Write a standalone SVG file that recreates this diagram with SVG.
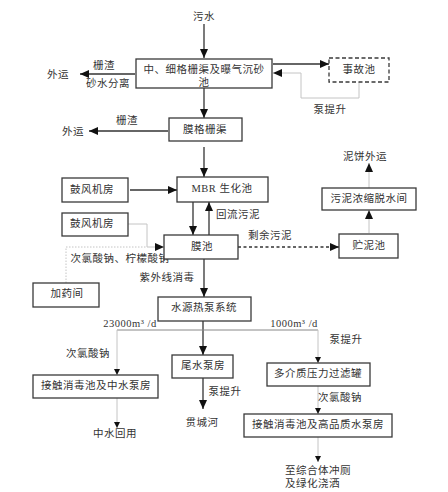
<svg xmlns="http://www.w3.org/2000/svg" width="448" height="492" viewBox="0 0 448 492">
<defs>
<style>
.box{fill:#fff;stroke:#3a3a3a;stroke-width:1.3}
.dbox{fill:#fff;stroke:#3a3a3a;stroke-width:1.3;stroke-dasharray:4,2.5}
text{font-family:"Liberation Serif","Noto Sans CJK SC",serif;font-size:10.5px;fill:#333;text-anchor:middle;dominant-baseline:central;letter-spacing:0.5px}
.l{text-anchor:start}
.k{fill:none;stroke:#333;stroke-width:1.3}
.g{fill:none;stroke:#c4c4c4;stroke-width:1}
.m{fill:none;stroke:#888;stroke-width:1}
</style>
<marker id="a" markerUnits="userSpaceOnUse" markerWidth="10" markerHeight="8" refX="9" refY="4" orient="auto"><path d="M0,0 L9,4 L0,8 z" fill="#111"/></marker>
<marker id="s" markerUnits="userSpaceOnUse" markerWidth="7" markerHeight="6" refX="6" refY="3" orient="auto"><path d="M0,0 L6,3 L0,6 z" fill="#111"/></marker>
</defs>
<rect width="448" height="492" fill="#fff"/>
<g id="connectors">
<line class="k" x1="204" y1="24" x2="204" y2="58" marker-end="url(#a)"/>
<line class="k" x1="135" y1="74" x2="80" y2="74" marker-end="url(#a)"/>
<line class="k" x1="273" y1="64" x2="329" y2="64" marker-end="url(#a)"/>
<polyline class="g" points="359,82 359,98 301,98 301,73 273,73" marker-end="url(#a)"/>
<line class="k" x1="204" y1="88" x2="204" y2="118" marker-end="url(#a)"/>
<line class="k" x1="168" y1="131" x2="89" y2="131" marker-end="url(#a)"/>
<line class="k" x1="204" y1="147" x2="204" y2="177" marker-end="url(#a)"/>
<line class="k" x1="130" y1="190" x2="177" y2="190" marker-end="url(#a)"/>
<line class="k" x1="193" y1="202" x2="193" y2="235" marker-end="url(#a)"/>
<line class="k" x1="209" y1="235" x2="209" y2="202" marker-end="url(#a)"/>
<polyline class="g" points="128,224 147,224 147,247 164,247" marker-end="url(#a)"/>
<polyline class="g" points="66,283 66,247 147,247" stroke-dasharray="1.5,1.5"/>
<line class="k" x1="238" y1="247" x2="339" y2="247" stroke-dasharray="3,2.5" stroke-width="1" marker-end="url(#a)"/>
<line class="g" x1="369" y1="233" x2="369" y2="210" marker-end="url(#a)"/>
<line class="g" x1="369" y1="188" x2="369" y2="163" marker-end="url(#a)"/>
<line class="k" x1="204" y1="259" x2="204" y2="297" marker-end="url(#a)"/>
<line class="k" x1="203" y1="321" x2="203" y2="355" marker-end="url(#a)"/>
<line class="m" x1="117" y1="330" x2="318" y2="330"/>
<line class="g" x1="117" y1="330" x2="117" y2="375" marker-end="url(#s)"/>
<line class="g" x1="318" y1="330" x2="318" y2="363" marker-end="url(#s)"/>
<line class="g" x1="117" y1="398" x2="117" y2="428" marker-end="url(#s)"/>
<line class="k" x1="203" y1="378" x2="203" y2="409" marker-end="url(#a)"/>
<line class="g" x1="318" y1="386" x2="318" y2="414" marker-end="url(#s)"/>
<line class="g" x1="318" y1="437" x2="318" y2="462" marker-end="url(#s)"/>
</g>
<g id="labels">
<text x="204" y="16">污水</text>
<text x="58" y="74">外运</text>
<text x="104" y="65">栅渣</text>
<text x="108" y="83">砂水分离</text>
<text x="330" y="109">泵提升</text>
<text x="73" y="131">外运</text>
<text x="127" y="120">栅渣</text>
<text x="238" y="214">回流污泥</text>
<text x="270" y="235">剩余污泥</text>
<text x="365" y="156">泥饼外运</text>
<text x="120" y="258">次氯酸钠、柠檬酸钠</text>
<text x="167" y="277">紫外线消毒</text>
<text x="130" y="323" letter-spacing="0">23000m³ /d</text>
<text x="294" y="323" letter-spacing="0">1000m³ /d</text>
<text x="88" y="353">次氯酸钠</text>
<text x="115" y="433">中水回用</text>
<text x="225" y="391">泵提升</text>
<text x="202" y="422">贯城河</text>
<text x="346" y="339">泵提升</text>
<text x="340" y="397">次氯酸钠</text>
<text class="l" x="285" y="470">至综合体冲厕</text>
<text class="l" x="285" y="483">及绿化浇洒</text>
</g>
<g id="n1"><rect class="box" x="136" y="59" width="136" height="29"/><text x="204" y="69">中、细格栅渠及曝气沉砂</text><text x="204" y="82">池</text></g>
<g id="n2"><rect class="dbox" x="329" y="58" width="60" height="24"/><text x="359" y="69">事故池</text></g>
<g id="n3"><rect class="box" x="169" y="118" width="73" height="23"/><text x="205" y="129">膜格栅渠</text></g>
<g id="n4"><rect class="box" x="177" y="177" width="91" height="25"/><text x="222" y="188">MBR 生化池</text></g>
<g id="n5"><rect class="box" x="62" y="178" width="66" height="24"/><text x="92" y="189">鼓风机房</text></g>
<g id="n6"><rect class="box" x="62" y="213" width="66" height="23"/><text x="92" y="223">鼓风机房</text></g>
<g id="n7"><rect class="box" x="164" y="235" width="74" height="24"/><text x="202" y="246">膜池</text></g>
<g id="n8"><rect class="box" x="339" y="234" width="59" height="24"/><text x="369" y="245">贮泥池</text></g>
<g id="n9"><rect class="box" x="322" y="188" width="94" height="22"/><text x="369" y="198">污泥浓缩脱水间</text></g>
<g id="n10"><rect class="box" x="33" y="283" width="66" height="24"/><text x="67" y="293">加药间</text></g>
<g id="n11"><rect class="box" x="158" y="297" width="93" height="24"/><text x="204" y="307">水源热泵系统</text></g>
<g id="n12"><rect class="box" x="172" y="355" width="61" height="23"/><text x="203" y="365">尾水泵房</text></g>
<g id="n13"><rect class="box" x="33" y="375" width="125" height="23"/><text x="96" y="385">接触消毒池及中水泵房</text></g>
<g id="n14"><rect class="box" x="267" y="363" width="103" height="23"/><text x="318" y="373">多介质压力过滤罐</text></g>
<g id="n15"><rect class="box" x="244" y="414" width="148" height="23"/><text x="318" y="424">接触消毒池及高品质水泵房</text></g>
</svg>
